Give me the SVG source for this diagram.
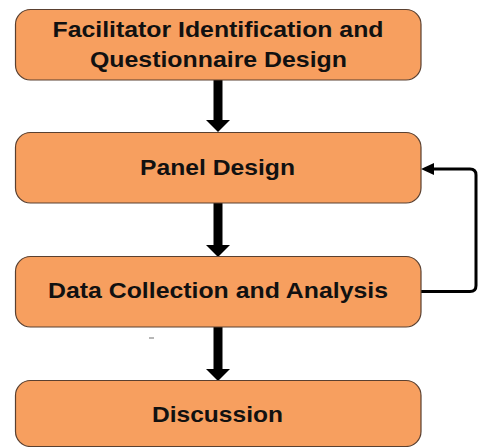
<svg xmlns="http://www.w3.org/2000/svg" width="478" height="447" viewBox="0 0 478 447">
  <style>
    .box { fill: #F79F5F; stroke: #5a4030; stroke-width: 1.2; }
    .label { font-family: "Liberation Sans", Arial, sans-serif; font-weight: bold; font-size: 22.5px; fill: #111; text-anchor: middle; }
    .flow { stroke: #000; stroke-width: 9; fill: none; }
    .loop { stroke: #000; stroke-width: 3; fill: none; }
  </style>
  <rect width="478" height="447" fill="#fff"/>

  <g id="connectors">
    <line class="flow" x1="218" y1="80" x2="218" y2="121"/>
    <path d="M206,120 L230,120 L218,132 z" fill="#000"/>
    <line class="flow" x1="218" y1="203" x2="218" y2="246"/>
    <path d="M206,245 L230,245 L218,257 z" fill="#000"/>
    <line class="flow" x1="218" y1="327" x2="218" y2="370"/>
    <path d="M206,369 L230,369 L218,381 z" fill="#000"/>
    <path class="loop" d="M421,291.5 H470 Q476,291.5 476,285.5 V175 Q476,169 470,169 H432"/>
    <path d="M434,163 L421,169 L434,175 z" fill="#000"/>
  </g>

  <g id="node-facilitator">
    <rect class="box" x="15.5" y="9.5" width="405.5" height="70.5" rx="15"/>
    <text class="label" x="218" y="36.5" textLength="331" lengthAdjust="spacingAndGlyphs">Facilitator Identification and</text>
    <text class="label" x="218.5" y="66.5" textLength="257" lengthAdjust="spacingAndGlyphs">Questionnaire Design</text>
  </g>
  <g id="node-panel">
    <rect class="box" x="15.5" y="132.5" width="405.5" height="70.5" rx="15"/>
    <text class="label" x="217.5" y="175" textLength="155" lengthAdjust="spacingAndGlyphs">Panel Design</text>
  </g>
  <g id="node-data">
    <rect class="box" x="15.5" y="256.5" width="405.5" height="70.5" rx="15"/>
    <text class="label" x="218" y="298" textLength="340" lengthAdjust="spacingAndGlyphs">Data Collection and Analysis</text>
  </g>
  <g id="node-discussion">
    <rect class="box" x="15.5" y="380.5" width="405.5" height="66" rx="15"/>
    <text class="label" x="217.5" y="421.5" textLength="131" lengthAdjust="spacingAndGlyphs">Discussion</text>
  </g>

  <line x1="149" y1="338" x2="154" y2="338" stroke="#888" stroke-width="1.2"/>
</svg>
